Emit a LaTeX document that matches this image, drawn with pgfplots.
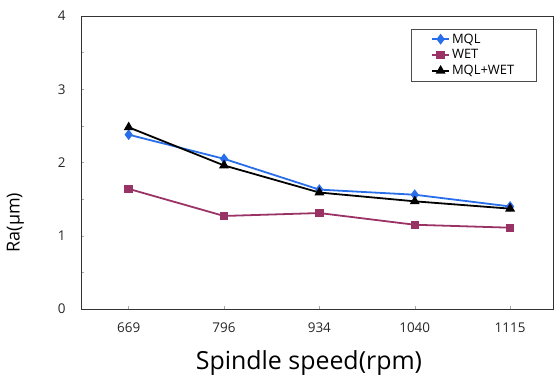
\documentclass[border=0pt]{standalone}
\usepackage{pgfplots}
\pgfplotsset{compat=1.18}
\usepackage{fontspec}
\setmainfont{Open Sans}
\definecolor{mqlblue}{RGB}{40,110,235}
\definecolor{wetred}{RGB}{153,51,102}
\begin{document}
\begin{tikzpicture}
\useasboundingbox (0,0) rectangle (555bp,380bp);
\begin{axis}[
  at={(81bp,71bp)}, anchor=south west,
  scale only axis,
  width=472bp, height=293bp,
  xmin=-0.5, xmax=4.45,
  ymin=0, ymax=4,
  xtick={0,1,2,3,4},
  xticklabels={669,796,934,1040,1115},
  ytick={0,1,2,3,4},
  minor ytick={0.5,1.5,2.5,3.5},
  tick align=inside,
  xtick pos=bottom, ytick pos=left,
  major tick length=3.5pt, minor tick length=3.5pt,
  every tick/.style={gray!70, line width=0.4pt},
  axis line style={black!80, line width=0.8pt},
  tick label style={font=\fontsize{13.5}{15}\selectfont, black!85},
  /pgf/number format/assume math mode=true,
  yticklabel style={xshift=-12bp},
  xticklabel style={yshift=-10bp},
  xlabel={Spindle speed(rpm)},
  xlabel style={font=\fontsize{25}{28}\selectfont, at={(axis description cs:0.483,-0.185)}, anchor=center},
  ylabel={Ra(µm)},
  ylabel style={font=\fontsize{18}{20}\selectfont, at={(axis description cs:-0.139,0.295)}, anchor=center},
  legend style={at={(0.965,0.957)}, anchor=north east, draw=black!70,
    font=\fontsize{13}{14}\selectfont, row sep=1pt,
    inner xsep=20bp, inner ysep=3pt, cells={anchor=west}},
  legend cell align=left,
]
\addplot[mqlblue, line width=1.8pt, mark=diamond*, mark size=4pt]
  coordinates {(0,2.38) (1,2.05) (2,1.63) (3,1.56) (4,1.40)};
\addlegendentry{MQL}
\addplot[wetred, line width=1.8pt, mark=square*, mark size=3.3pt]
  coordinates {(0,1.64) (1,1.27) (2,1.31) (3,1.15) (4,1.11)};
\addlegendentry{WET}
\addplot[black, line width=1.8pt, mark=triangle*, mark size=4pt]
  coordinates {(0,2.48) (1,1.96) (2,1.59) (3,1.47) (4,1.37)};
\addlegendentry{MQL+WET}
\end{axis}
\end{tikzpicture}
\end{document}
